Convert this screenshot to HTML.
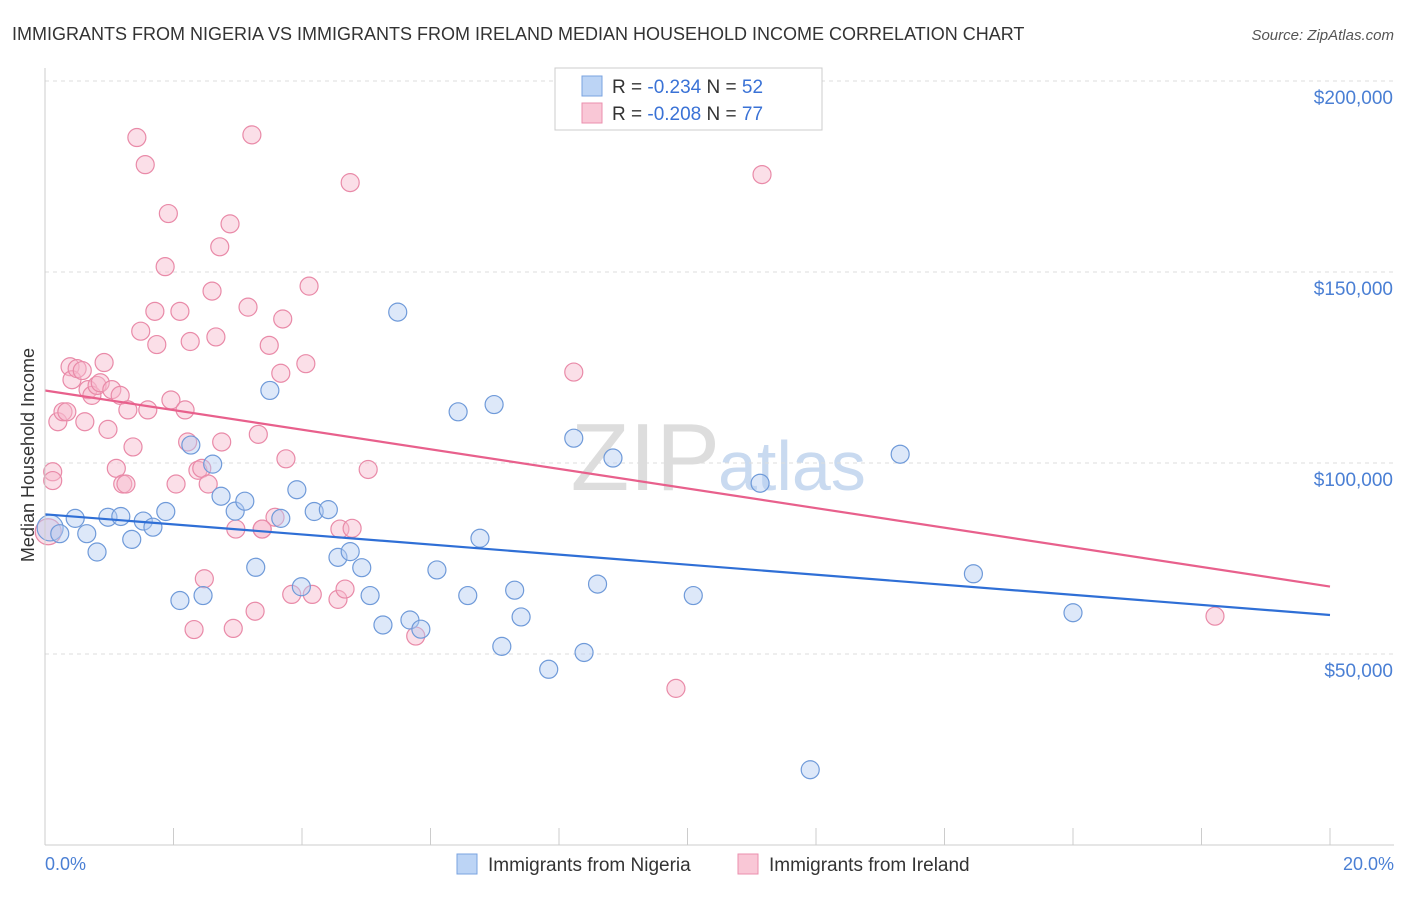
<!DOCTYPE html>
<html><head><meta charset="utf-8"><style>
body{margin:0;background:#fff;font-family:"Liberation Sans",sans-serif}
svg text{font-family:"Liberation Sans",sans-serif}
</style></head><body>
<svg id="c" width="1406" height="892">
<text x="12" y="40" font-size="18" fill="#333">IMMIGRANTS FROM NIGERIA VS IMMIGRANTS FROM IRELAND MEDIAN HOUSEHOLD INCOME CORRELATION CHART</text>
<text x="1394" y="40" font-size="15" fill="#555" text-anchor="end" font-style="italic">Source: ZipAtlas.com</text>
<text x="720" y="490" font-size="96" fill="#ddd" text-anchor="end" font-family="Liberation Serif">ZIP</text>
<text x="718" y="490" font-size="70" fill="#c9daf0">atlas</text>
<text transform="translate(34,455) rotate(-90)" font-size="18" fill="#333" text-anchor="middle">Median Household Income</text>
<g id="grid"></g><g id="pts"></g><g id="lines"></g>
<line x1="45" y1="845" x2="1394" y2="845" stroke="#ccc"/>
<line x1="45" y1="68" x2="45" y2="845" stroke="#ccc"/>
<text x="45" y="870" font-size="18" fill="#4a7fd4">0.0%</text>
<text x="1394" y="870" font-size="18" fill="#4a7fd4" text-anchor="end">20.0%</text>
<g>
<rect x="555" y="68" width="267" height="62" fill="#fff" stroke="#ccc"/>
<rect x="582" y="76" width="20" height="20" fill="#bcd4f5" stroke="#7aa3e0"/>
<rect x="582" y="103" width="20" height="20" fill="#f9c7d6" stroke="#eb8fae"/>
<text x="612" y="93" font-size="19" fill="#333">R = <tspan fill="#3a72d6">-0.234</tspan>   N = <tspan fill="#3a72d6">52</tspan></text>
<text x="612" y="120" font-size="19" fill="#333">R = <tspan fill="#3a72d6">-0.208</tspan>   N = <tspan fill="#3a72d6">77</tspan></text>
</g>
<g>
<rect x="457" y="854" width="20" height="20" fill="#bcd4f5" stroke="#7aa3e0"/>
<text x="488" y="871" font-size="19" fill="#333">Immigrants from Nigeria</text>
<rect x="738" y="854" width="20" height="20" fill="#f9c7d6" stroke="#eb8fae"/>
<text x="769" y="871" font-size="19" fill="#333">Immigrants from Ireland</text>
</g>
</svg>
<script>
const yTicks=[50000,100000,150000,200000];
const yTickLabels=["$50,000","$100,000","$150,000","$200,000"];
const xTicks=[0,2,4,6,8,10,12,14,16,18,20];
const nigeriaX=[0.08,0.23,0.47,0.65,0.81,0.98,1.18,1.35,1.53,1.68,1.88,2.1,2.27,2.46,2.61,2.74,2.96,3.11,3.28,3.67,3.92,3.99,4.19,4.41,4.56,4.75,4.93,5.06,5.26,5.49,5.68,5.85,6.1,6.43,6.58,6.77,6.99,7.11,7.31,7.41,7.84,8.23,8.39,8.6,8.84,10.09,11.13,11.91,13.31,14.45,16.0,3.5];
const nigeriaY=[83000,81500,85500,81500,76700,85800,86000,80000,84800,83200,87300,64000,104700,65300,99700,91300,87400,90000,72700,85500,93000,67600,87300,87800,75300,76800,72600,65300,57600,139500,58900,56500,72000,113400,65300,80300,115300,52000,66700,59700,46000,106500,50400,68300,101300,65300,94700,19700,102300,71000,60800,119000];
const irelandX=[0.05,0.12,0.12,0.2,0.28,0.34,0.39,0.42,0.5,0.58,0.62,0.67,0.73,0.81,0.86,0.92,0.98,1.04,1.11,1.17,1.21,1.26,1.29,1.37,1.43,1.49,1.56,1.6,1.71,1.74,1.87,1.92,1.96,2.04,2.1,2.18,2.22,2.26,2.32,2.38,2.44,2.48,2.54,2.6,2.66,2.72,2.75,2.88,2.93,2.97,3.16,3.22,3.27,3.32,3.38,3.49,3.58,3.67,3.7,3.75,3.84,4.06,4.11,4.16,4.56,4.59,4.67,4.75,4.78,5.03,5.77,8.23,9.82,11.16,18.21,3.38];
const irelandY=[82000,97700,95400,110800,113400,113400,125200,121800,124700,124200,110800,119200,117700,120300,121000,126300,108800,119200,98600,117700,94500,94500,113900,104200,185200,134500,178100,113900,139700,131000,151400,165300,116500,94500,139700,113900,105500,131800,56400,98100,98600,69700,94500,145000,133000,156600,105500,162600,56700,82700,140800,185900,61200,107500,82700,130800,85800,123500,137700,101100,65600,126000,146300,65600,64300,82700,67000,173400,82900,98300,54700,123800,41000,175500,59900,82700];
const X=v=>45+v/20*1285, Y=v=>845-v*191/50000;
const NS='http://www.w3.org/2000/svg';
function mk(t,a,p){const e=document.createElementNS(NS,t);for(const k in a)e.setAttribute(k,a[k]);p.appendChild(e);return e;}
const grid=document.getElementById('grid'),pts=document.getElementById('pts'),lines=document.getElementById('lines');
yTicks.forEach((v,i)=>{
 const l=mk('line',{x1:45,x2:1394,y1:Y(v),y2:Y(v),stroke:'#ddd','stroke-dasharray':'4,4'},grid);
 
 
 const t=mk('text',{x:1393,y:Y(v)+23,'font-size':19,fill:'#4a7fd4','text-anchor':'end'},grid);
 t.textContent=yTickLabels[i];
 
 
});
xTicks.forEach(v=>{
 const l=mk('line',{x1:X(v),x2:X(v),y1:828,y2:845,stroke:'#ccc'},grid);
 
 
});
function series(xs,ys,fill,stroke,name){
 xs.forEach((x,i)=>{
  const r=i===0?13:9;
  const c=mk('circle',{cx:X(x),cy:Y(ys[i]),r:r,fill:fill,'fill-opacity':0.45,stroke:stroke,'stroke-width':1.2},pts);
  
  
 });
}
series(irelandX,irelandY,'#f7b9cc','#e98aa8','ireland-point');
series(nigeriaX,nigeriaY,'#b3cdf2','#6f9ad9','nigeria-point');
function trend(xs,ys,color,name){
 const n=xs.length,mx=xs.reduce((a,b)=>a+b)/n,my=ys.reduce((a,b)=>a+b)/n;
 let sxy=0,sxx=0;xs.forEach((x,i)=>{sxy+=(x-mx)*(ys[i]-my);sxx+=(x-mx)*(x-mx);});
 const b=sxy/sxx,a=my-b*mx;
 const l=mk('line',{x1:X(0),y1:Y(a),x2:X(20),y2:Y(a+b*20),stroke:color,'stroke-width':2.2},lines);
 
 
}
trend(nigeriaX,nigeriaY,'#2f6fd6','nigeria-trend-line');
trend(irelandX,irelandY,'#e8608c','ireland-trend-line');
</script>
</body></html>
